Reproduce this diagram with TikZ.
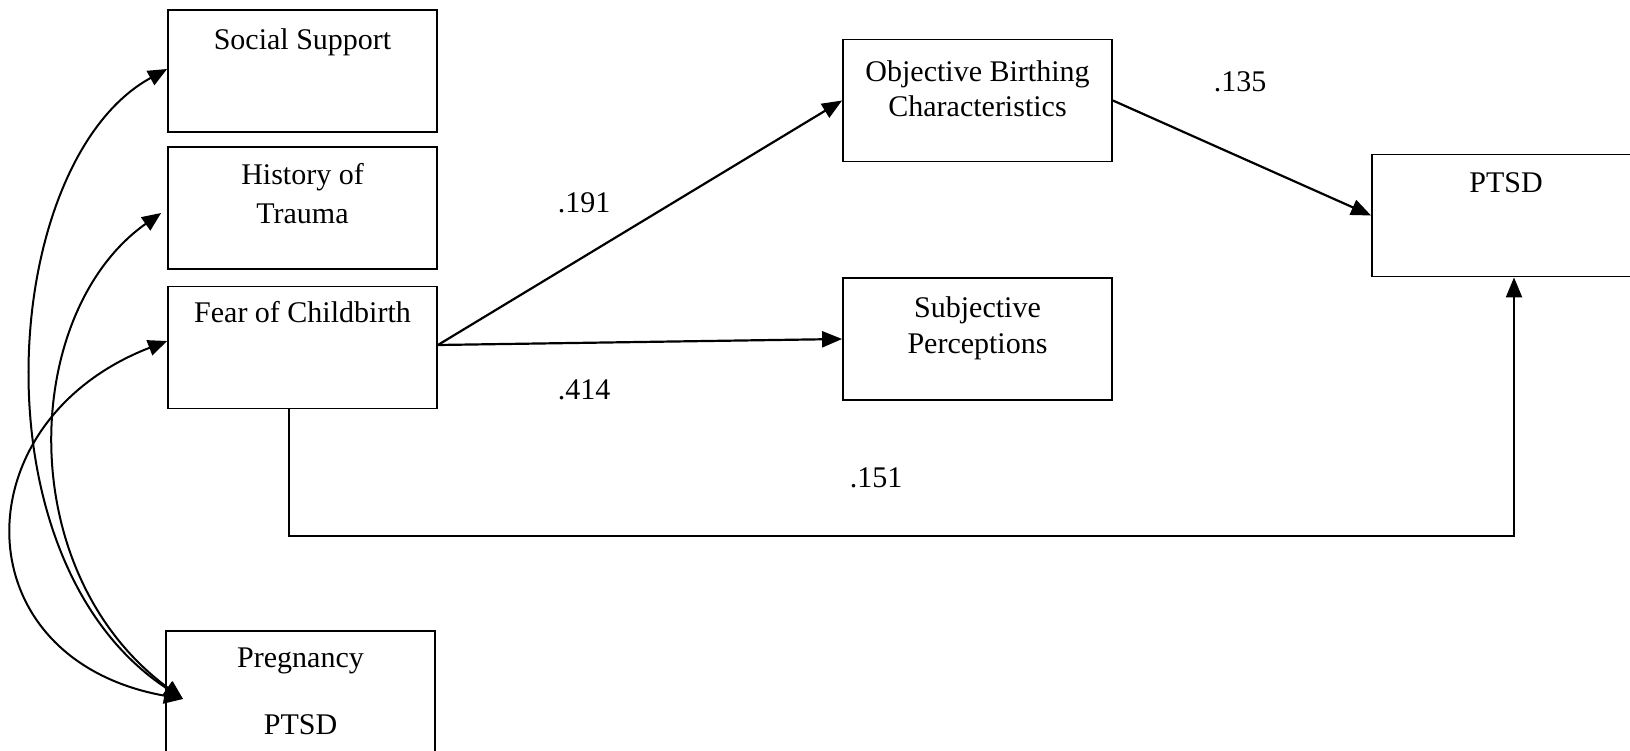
\documentclass[tikz,border=0pt]{standalone}
\usepackage{fontspec}
\setmainfont{Liberation Serif}
\usetikzlibrary{arrows.meta,calc}
\begin{document}
\begin{tikzpicture}[x=1pt,y=-1pt,
  box/.style={draw, line width=1.8pt, minimum width=269pt, minimum height=122pt, inner sep=0pt},
  lbl/.style={anchor=base, font=\fontsize{30}{39}\selectfont, inner sep=0pt},
  arr/.style={line width=2.2pt, -{Triangle[length=20pt,width=16pt]}},
  cov/.style={line width=2pt, {Triangle[length=19pt,width=16pt]}-{Triangle[length=19pt,width=16pt]}}]
\useasboundingbox (0,0) rectangle (1630,751);
% boxes
\node[box] (ss)   at (302.5,71)    {};
\node[box] (hot)  at (302.5,208)   {};
\node[box] (fear) at (302.5,347.5) {};
\node[box] (preg) at (300.5,692)   {};
\node[box] (obj)  at (977.5,100.5) {};
\node[box] (subj) at (977.5,339)   {};
\node[box] (ptsd) at (1506.5,215.5){};
% box texts
\node[lbl] (sst)   at (302.5,50)  {Social Support};
\node[lbl] (hot1)  at (302.5,185) {History of};
\node[lbl] (hot2)  at (302.5,224) {Trauma};
\node[lbl] (feart) at (302.5,323) {Fear of Childbirth};
\node[lbl] (obj1)  at (977.5,82)  {Objective Birthing};
\node[lbl] (obj2)  at (977.5,117) {Characteristics};
\node[lbl] (subj1) at (977.5,317) {Subjective};
\node[lbl] (subj2) at (977.5,353) {Perceptions};
\node[lbl] (ptsdt) at (1506,193)  {PTSD};
\node[lbl] (preg1) at (300.5,667) {Pregnancy};
\node[lbl] (preg2) at (300.5,734) {PTSD};
% coefficient labels
\node[lbl] (l191) at (584,213) {.191};
\node[lbl] (l414) at (584,399) {.414};
\node[lbl] (l135) at (1240,92) {.135};
\node[lbl] (l151) at (876,487) {.151};
% coordinates
\coordinate (pin) at (183,699);
\coordinate (fstart) at ([yshift=2.5pt]fear.east);
\coordinate (sstip) at ([yshift=2pt]ss.west);
\coordinate (hottip) at ([xshift=-6pt,yshift=-5pt]hot.west);
\coordinate (feartip) at ([yshift=6.5pt]fear.west);
\coordinate (corner) at (1514,536);
% paths
\draw[arr] (fstart) -- (obj.west);
\draw[arr] (fstart) -- (subj.west);
\draw[arr] (obj.east) -- (ptsd.west);
\draw[arr] ([xshift=-13.5pt]fear.south) |- (corner) -- (corner |- ptsd.south);
% covariance curves
\draw[cov] (pin) .. controls (-30,560) and (0,160) .. (sstip);
\draw[cov] (pin) .. controls (10,571) and (22,311) .. (hottip);
\draw[cov] (pin) .. controls (-40,659) and (-40,421) .. (feartip);
\end{tikzpicture}
\end{document}
